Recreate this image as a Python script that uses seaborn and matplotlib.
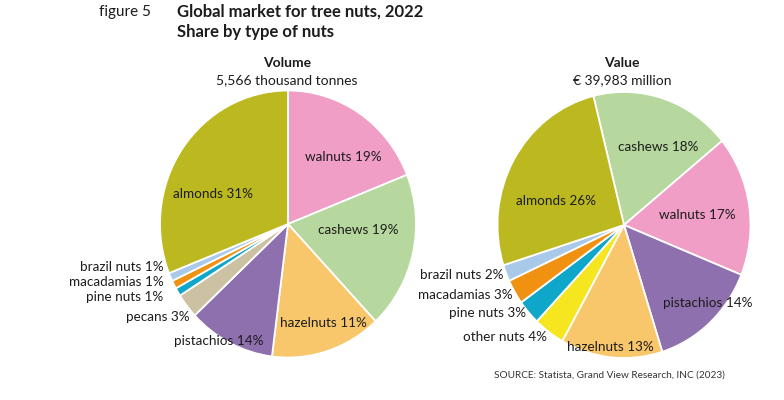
import matplotlib
matplotlib.use("Agg")
import matplotlib.pyplot as plt
import seaborn as sns

# volume (clockwise from 12 o'clock)
vol_nuts = ["walnuts", "cashews", "hazelnuts", "pistachios", "pecans",
            "pine nuts", "macadamias", "brazil nuts", "almonds"]
vol_pct = [19, 19, 11, 14, 3, 1, 1, 1, 31]          # printed percentages
# slice sizes as drawn in the source (hazelnut/pistachio slices there
# do not match their printed labels)
vol_share = [19, 19, 14, 11, 3, 1, 1, 1, 31]

# value (clockwise from almonds/cashews boundary)
val_nuts = ["cashews", "walnuts", "pistachios", "hazelnuts", "other nuts",
            "pine nuts", "macadamias", "brazil nuts", "almonds"]
val_pct = [18, 17, 14, 13, 4, 3, 3, 2, 26]
val_share = val_pct

colors = {
    "almonds": "#bcb81f", "walnuts": "#f09ec6", "cashews": "#b6d79d",
    "hazelnuts": "#f8c76c", "pistachios": "#8f70af", "pecans": "#cdc1a3",
    "pine nuts": "#0ea6c9", "macadamias": "#f19112", "brazil nuts": "#a9c9ea",
    "other nuts": "#f6e61f",
}

# label placement in pie units (x, y, ha)
vol_labels = {
    "walnuts": (0.43, 0.50, "center"), "cashews": (0.545, -0.045, "center"),
    "hazelnuts": (0.276, -0.74, "center"), "pistachios": (-0.538, -0.876, "center"),
    "pecans": (-0.771, -0.70, "right"), "pine nuts": (-0.974, -0.545, "right"),
    "macadamias": (-0.974, -0.437, "right"), "brazil nuts": (-0.974, -0.324, "right"),
    "almonds": (-0.584, 0.225, "center"),
}
val_labels = {
    "cashews": (0.271, 0.584, "center"), "walnuts": (0.583, 0.075, "center"),
    "pistachios": (0.666, -0.589, "center"), "hazelnuts": (-0.104, -0.915, "center"),
    "other nuts": (-0.611, -0.845, "right"), "pine nuts": (-0.775, -0.664, "right"),
    "macadamias": (-0.880, -0.526, "right"), "brazil nuts": (-0.949, -0.376, "right"),
    "almonds": (-0.539, 0.183, "center"),
}

sns.set_theme(style="white")
plt.rcParams["font.family"] = ["Lato", "DejaVu Sans"]

W, H = 784, 400
INK = "#1c1c1c"
fig = plt.figure(figsize=(W / 100, H / 100), dpi=100)


def pie_axes(cx, cy, rx, ry):
    ax = fig.add_axes([(cx - rx) / W, (H - cy - ry) / H, 2 * rx / W, 2 * ry / H])
    ax.axis("off")
    return ax


def draw_pie(ax, nuts, shares, pcts, start, labels):
    ax.pie(shares, colors=[colors[n] for n in nuts], startangle=start,
           counterclock=False, radius=1,
           wedgeprops=dict(edgecolor="white", linewidth=1.3))
    # the source image is slightly stretched vertically
    ax.set_aspect("auto")
    ax.set_xlim(-1, 1)
    ax.set_ylim(-1, 1)
    for n, p in zip(nuts, pcts):
        x, y, ha = labels[n]
        ax.text(x, y, f"{n} {p}%", ha=ha, va="center", fontsize=9.7,
                color=INK, clip_on=False)


ax1 = pie_axes(288, 224, 128, 133.5)
draw_pie(ax1, vol_nuts, vol_share, vol_pct, 90, vol_labels)

ax2 = pie_axes(624, 225, 126.5, 133)
draw_pie(ax2, val_nuts, val_share, val_pct, 104, val_labels)

fig.text(99 / W, 1 - 12 / H, "figure 5", fontsize=11, va="center", color=INK)
fig.text(177 / W, 1 - 12 / H, "Global market for tree nuts, 2022", fontsize=12,
         fontweight="bold", va="center", color=INK)
fig.text(177 / W, 1 - 32 / H, "Share by type of nuts", fontsize=12,
         fontweight="bold", va="center", color=INK)

fig.text(287 / W, 1 - 63 / H, "Volume", fontsize=10, fontweight="bold",
         ha="center", va="center", color=INK)
fig.text(287 / W, 1 - 80 / H, "5,566 thousand tonnes", fontsize=10,
         ha="center", va="center", color=INK)
fig.text(622 / W, 1 - 63 / H, "Value", fontsize=10, fontweight="bold",
         ha="center", va="center", color=INK)
fig.text(622 / W, 1 - 80 / H, "€ 39,983 million", fontsize=10,
         ha="center", va="center", color=INK)

fig.text(494 / W, 1 - 375 / H, "SOURCE: Statista, Grand View Research, INC (2023)",
         fontsize=7.2, va="center", color="#333333")

fig.savefig("out.png", dpi=100, facecolor="white")
